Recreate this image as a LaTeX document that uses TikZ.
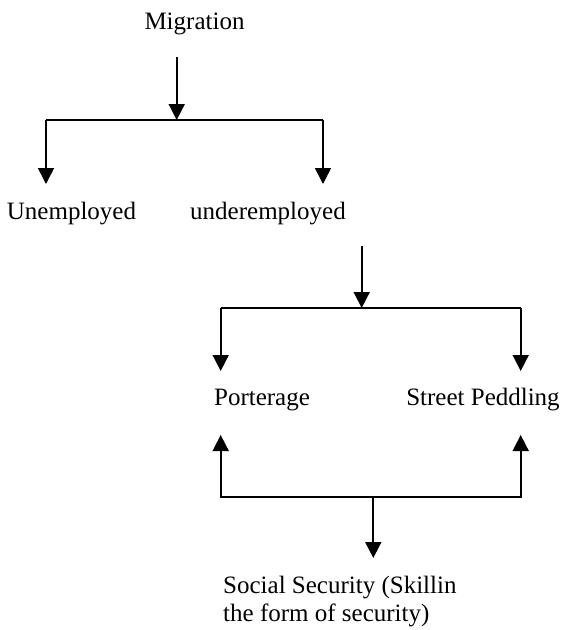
\documentclass[tikz,border=0pt]{standalone}
\usepackage{fontspec}
\setmainfont{Liberation Serif}
\usetikzlibrary{arrows.meta}
\begin{document}
\begin{tikzpicture}[x=1pt,y=-1pt,
  lbl/.style={inner sep=0pt,anchor=base,font=\fontsize{25}{28}\selectfont},
  conn/.style={line width=1.7pt,line join=miter},
  arr/.style={conn,-{Triangle[width=16pt,length=16pt]}}]
\useasboundingbox (0,0) rectangle (566,630);
% texts
\node[lbl] (mig) at (194.5,29) {Migration};
\node[lbl] (unemp) at (71.5,219) {Unemployed};
\node[lbl] (under) at (268,219) {underemployed};
\node[lbl] (port) at (262,405) {Porterage};
\node[lbl] (street) at (483,405) {Street Peddling};
\node[lbl,anchor=base west,align=left] (soc) at (223,621) {Social Security (Skillin\\the form of security)};
% coordinates
\coordinate (a1s) at (176.7,57);
\coordinate (j1) at (176.7,120);
\coordinate (j1l) at (46,120);
\coordinate (j1r) at (323,120);
\coordinate (t1l) at (46,184);
\coordinate (t1r) at (323,184);
\coordinate (a2s) at (361.7,246);
\coordinate (j2) at (361.7,308);
\coordinate (j2l) at (220.7,308);
\coordinate (j2r) at (520.7,308);
\coordinate (t2l) at (220.7,371);
\coordinate (t2r) at (520.7,371);
\coordinate (t3l) at (220.7,435);
\coordinate (t3r) at (520.7,435);
\coordinate (j3l) at (220.7,497);
\coordinate (j3r) at (520.7,497);
\coordinate (j3) at (373.3,497);
\coordinate (t3) at (373.3,558);
% connectors
\draw[arr] (a1s) -- (j1);
\draw[conn] (j1l) -- (j1r);
\draw[arr] (j1l) -- (t1l);
\draw[arr] (j1r) -- (t1r);
\draw[arr] (a2s) -- (j2);
\draw[conn] (j2l) -- (j2r);
\draw[arr] (j2l) -- (t2l);
\draw[arr] (j2r) -- (t2r);
\draw[arr] (j3r) -- (j3l) -- (t3l);
\draw[arr] (j3l) -- (j3r) -- (t3r);
\draw[arr] (j3) -- (t3);
\end{tikzpicture}
\end{document}
